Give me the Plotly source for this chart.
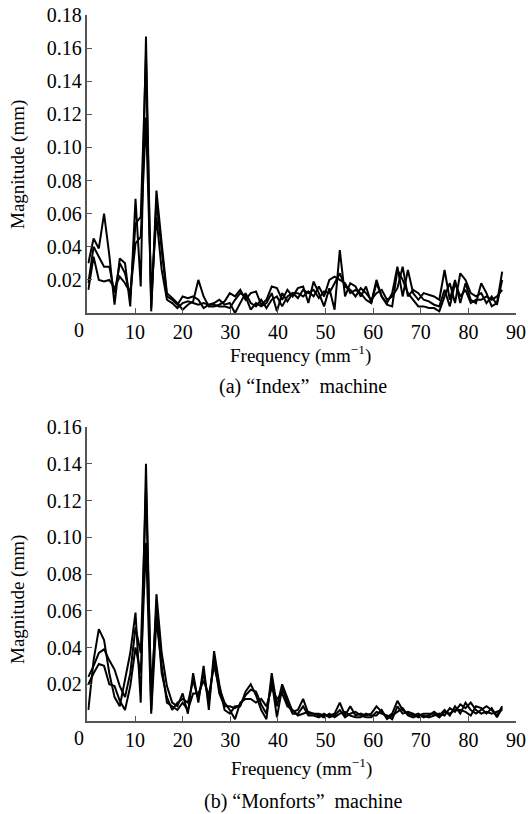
import plotly.graph_objects as go

W, H = 528, 814

# frequency bins (mm^-1)
freq = [round(0.2 + 1.1 * i, 2) for i in range(80)]

# (a) "Index" machine, three measurements
index_1 = [0.030, 0.045, 0.039, 0.060, 0.035, 0.005, 0.033, 0.030, 0.004, 0.069,
           0.016, 0.167, 0.001, 0.074, 0.042, 0.012, 0.009, 0.006, 0.002, 0.005,
           0.007, 0.020, 0.010, 0.004, 0.004, 0.005, 0.007, 0.012, 0.010, 0.014,
           0.008, 0.012, 0.013, 0.005, 0.008, 0.016, 0.015, 0.008, 0.014, 0.010,
           0.015, 0.016, 0.006, 0.019, 0.012, 0.004, 0.015, 0.002, 0.038, 0.010,
           0.018, 0.016, 0.010, 0.016, 0.006, 0.020, 0.010, 0.006, 0.012, 0.028,
           0.010, 0.026, 0.012, 0.008, 0.012, 0.011, 0.010, 0.008, 0.026, 0.008,
           0.020, 0.006, 0.018, 0.008, 0.006, 0.018, 0.012, 0.004, 0.006, 0.025]
index_2 = [0.018, 0.040, 0.034, 0.028, 0.028, 0.012, 0.030, 0.024, 0.010, 0.054,
           0.058, 0.155, 0.003, 0.068, 0.038, 0.010, 0.008, 0.005, 0.010, 0.009,
           0.010, 0.008, 0.003, 0.005, 0.005, 0.004, 0.004, 0.003, 0.008, 0.012,
           0.010, 0.002, 0.006, 0.004, 0.006, 0.012, 0.001, 0.012, 0.007, 0.012,
           0.012, 0.010, 0.013, 0.010, 0.016, 0.010, 0.020, 0.022, 0.020, 0.018,
           0.012, 0.014, 0.012, 0.008, 0.006, 0.018, 0.010, 0.005, 0.004, 0.026,
           0.020, 0.012, 0.008, 0.004, 0.004, 0.003, 0.003, 0.001, 0.010, 0.018,
           0.006, 0.024, 0.020, 0.012, 0.010, 0.012, 0.006, 0.010, 0.005, 0.020]
index_3 = [0.014, 0.034, 0.020, 0.019, 0.020, 0.015, 0.022, 0.018, 0.012, 0.042,
           0.046, 0.118, 0.010, 0.058, 0.026, 0.008, 0.006, 0.003, 0.006, 0.007,
           0.006, 0.005, 0.006, 0.005, 0.006, 0.008, 0.005, 0.006, 0.000, 0.006,
           0.012, 0.006, 0.004, 0.008, 0.003, 0.008, 0.010, 0.004, 0.010, 0.012,
           0.009, 0.014, 0.012, 0.014, 0.009, 0.013, 0.012, 0.018, 0.024, 0.016,
           0.014, 0.010, 0.015, 0.012, 0.008, 0.012, 0.014, 0.008, 0.010, 0.015,
           0.028, 0.010, 0.014, 0.012, 0.008, 0.007, 0.005, 0.004, 0.014, 0.004,
           0.018, 0.010, 0.014, 0.006, 0.008, 0.008, 0.010, 0.008, 0.010, 0.014]

# (b) "Monforts" machine, three measurements
monforts_1 = [0.006, 0.033, 0.050, 0.044, 0.026, 0.013, 0.008, 0.022, 0.037, 0.059,
              0.010, 0.140, 0.006, 0.069, 0.037, 0.019, 0.010, 0.008, 0.015, 0.004,
              0.026, 0.010, 0.030, 0.006, 0.038, 0.020, 0.006, 0.004, 0.008, 0.008,
              0.016, 0.020, 0.014, 0.006, 0.001, 0.026, 0.008, 0.020, 0.012, 0.005,
              0.006, 0.012, 0.004, 0.004, 0.004, 0.003, 0.003, 0.004, 0.010, 0.003,
              0.008, 0.003, 0.004, 0.003, 0.004, 0.008, 0.005, 0.002, 0.004, 0.011,
              0.006, 0.004, 0.003, 0.004, 0.002, 0.003, 0.005, 0.003, 0.006, 0.003,
              0.008, 0.004, 0.010, 0.006, 0.004, 0.006, 0.008, 0.006, 0.003, 0.008]
monforts_2 = [0.024, 0.030, 0.037, 0.039, 0.033, 0.028, 0.019, 0.013, 0.026, 0.051,
              0.037, 0.127, 0.015, 0.062, 0.026, 0.013, 0.006, 0.010, 0.012, 0.010,
              0.022, 0.012, 0.026, 0.010, 0.034, 0.015, 0.008, 0.008, 0.007, 0.009,
              0.014, 0.017, 0.016, 0.009, 0.004, 0.022, 0.002, 0.018, 0.010, 0.004,
              0.004, 0.008, 0.003, 0.003, 0.002, 0.004, 0.002, 0.003, 0.006, 0.002,
              0.004, 0.005, 0.003, 0.002, 0.002, 0.005, 0.004, 0.003, 0.001, 0.008,
              0.004, 0.005, 0.004, 0.002, 0.003, 0.002, 0.003, 0.004, 0.003, 0.007,
              0.005, 0.009, 0.007, 0.010, 0.006, 0.004, 0.005, 0.004, 0.005, 0.006]
monforts_3 = [0.020, 0.026, 0.031, 0.030, 0.020, 0.019, 0.011, 0.006, 0.019, 0.040,
              0.026, 0.097, 0.004, 0.055, 0.030, 0.010, 0.008, 0.006, 0.010, 0.006,
              0.015, 0.015, 0.022, 0.014, 0.030, 0.018, 0.010, 0.006, 0.001, 0.010,
              0.012, 0.012, 0.010, 0.012, 0.008, 0.018, 0.012, 0.015, 0.008, 0.006,
              0.003, 0.004, 0.005, 0.004, 0.003, 0.002, 0.004, 0.002, 0.004, 0.005,
              0.003, 0.002, 0.002, 0.004, 0.003, 0.003, 0.006, 0.001, 0.003, 0.005,
              0.007, 0.003, 0.002, 0.003, 0.004, 0.004, 0.004, 0.002, 0.005, 0.004,
              0.006, 0.006, 0.005, 0.003, 0.008, 0.007, 0.004, 0.007, 0.002, 0.007]

x_ticks = [0, 10, 20, 30, 40, 50, 60, 70, 80, 90]
x_tick_text = ["", "10", "20", "30", "40", "50", "60", "70", "80", "90"]
y_ticks_a = [0.02, 0.04, 0.06, 0.08, 0.10, 0.12, 0.14, 0.16, 0.18]
y_ticks_b = [0.02, 0.04, 0.06, 0.08, 0.10, 0.12, 0.14, 0.16]

FONT = "Liberation Serif"
AX = "#555555"

fig = go.Figure()
for ys in (index_1, index_2, index_3):
    fig.add_trace(go.Scatter(x=freq, y=ys, mode="lines", xaxis="x", yaxis="y",
                             line=dict(color="black", width=2), showlegend=False))
for ys in (monforts_1, monforts_2, monforts_3):
    fig.add_trace(go.Scatter(x=freq, y=ys, mode="lines", xaxis="x2", yaxis="y2",
                             line=dict(color="black", width=2), showlegend=False))

xdom = [87.4 / W, 516 / W]
dom_a = [1 - 313 / H, 1 - 15 / H]
dom_b = [1 - 721 / H, 1 - 427 / H]

common_x = dict(range=[0, 90], tickvals=x_ticks, ticktext=x_tick_text,
                ticks="inside", ticklen=5,
                tickcolor=AX, tickwidth=1.3, showline=True, linecolor=AX,
                linewidth=1.5, showgrid=False, zeroline=False, automargin=False,
                tickfont=dict(family=FONT, size=20, color="black"), domain=xdom)
common_y = dict(ticks="inside", ticklen=5, tickcolor=AX, tickwidth=1.3,
                showline=True, linecolor=AX, linewidth=1.5, showgrid=False,
                zeroline=False, tickformat=".2f", automargin=False,
                tickfont=dict(family=FONT, size=20, color="black"))

fig.update_layout(
    width=W, height=H, margin=dict(l=0, r=0, t=0, b=0, autoexpand=False),
    paper_bgcolor="white", plot_bgcolor="white",
    xaxis=dict(**common_x, anchor="y"),
    yaxis=dict(**common_y, range=[0, 0.18], tickvals=y_ticks_a, domain=dom_a, anchor="x"),
    xaxis2=dict(**common_x, anchor="y2"),
    yaxis2=dict(**common_y, range=[0, 0.16], tickvals=y_ticks_b, domain=dom_b, anchor="x2"),
)

def ann(text, x, y, size=18, angle=0):
    fig.add_annotation(text=text, x=x / W, y=1 - y / H, xref="paper", yref="paper",
                       showarrow=False, textangle=angle,
                       font=dict(family=FONT, size=size, color="black"),
                       xanchor="center", yanchor="middle")

# origin label sits left of the axis corner in the reference
ann("0", 79, 330, size=20)
ann("0", 79, 738, size=20)

ann("Frequency (mm<sup>−1</sup>)", 300, 354, size=19)
ann("(a) \u201cIndex\u201d  machine", 303, 386, size=20)
ann("Magnitude (mm)", 18, 165, size=19, angle=-90)

ann("Frequency (mm<sup>−1</sup>)", 301, 767, size=19)
ann("(b) \u201cMonforts\u201d  machine", 303, 801, size=20)
ann("Magnitude (mm)", 18, 600, size=19, angle=-90)

fig.write_html("out.html", config={"displayModeBar": False},
               post_script="document.body.style.margin='0';document.body.style.overflow='hidden';")
